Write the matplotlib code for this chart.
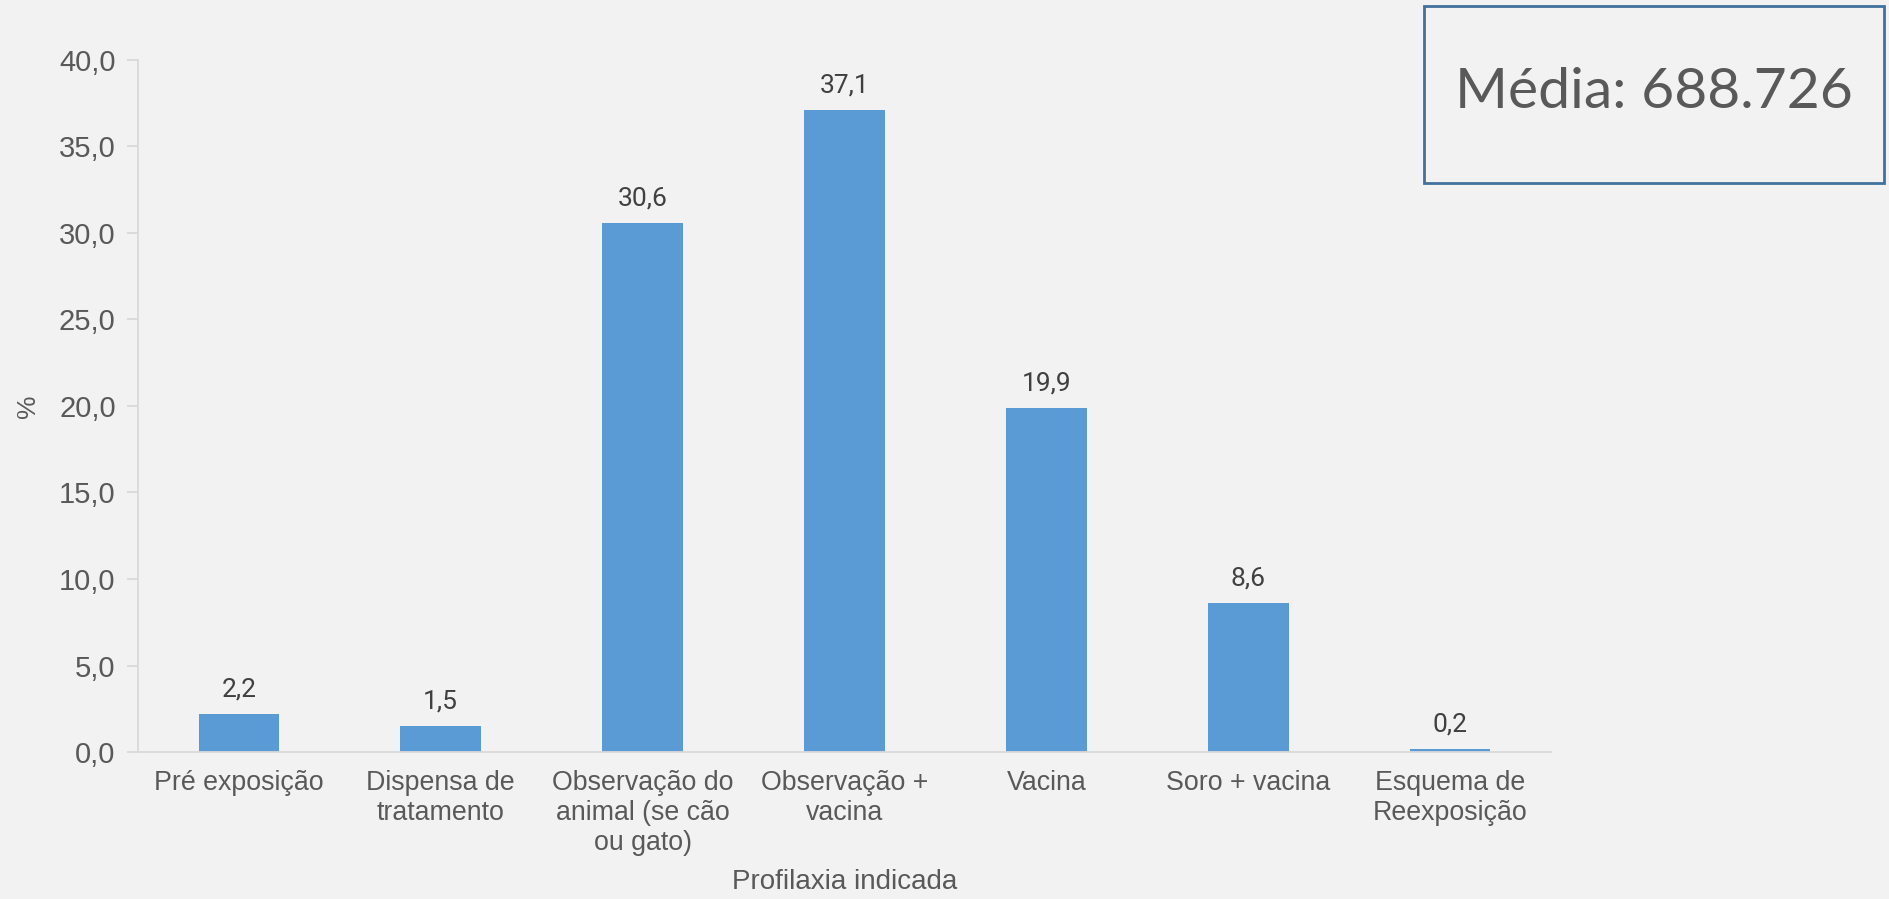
import matplotlib
matplotlib.use("Agg")
import matplotlib.pyplot as plt
import numpy as np

# dados
categorias = ["Pré exposição", "Dispensa de\ntratamento", "Observação do\nanimal (se cão\nou gato)",
              "Observação +\nvacina", "Vacina", "Soro + vacina", "Esquema de\nReexposição"]
percentuais = [2.2, 1.5, 30.6, 37.1, 19.9, 8.6, 0.2]
yticks = [0, 5, 10, 15, 20, 25, 30, 35, 40]
media_txt = "Média: 688.726"

bg = "#F2F2F2"
azul = "#5B9BD5"
cinza_txt = "#595959"
cinza_eixo = "#D9D9D9"

plt.rcParams['font.family'] = ['Liberation Sans', 'DejaVu Sans']

fig = plt.figure(figsize=(18.9, 8.99), dpi=100, facecolor=bg)
ax = fig.add_axes([0.073, 0.1635, 0.7476, 0.7698], facecolor=bg)

x = np.arange(len(categorias))
bars = ax.bar(x, percentuais, width=0.4, color=azul)

for xi, v in zip(x, percentuais):
    ax.annotate(f"{v:.1f}".replace(".", ","), (xi, v), xytext=(0, 9), textcoords="offset points",
                ha="center", va="bottom", fontsize=19, color="#404040", family=['Roboto'])

ax.set_xlim(-0.5, len(categorias) - 0.5)
ax.set_ylim(0, 40)
ax.set_yticks(yticks)
ax.set_yticklabels([f"{t:.1f}".replace(".", ",") for t in yticks], fontsize=21, color=cinza_txt)
ax.set_xticks(x)
ax.set_xticklabels(categorias, fontsize=19.3, color=cinza_txt, linespacing=1.2, va="top")

for s in ["top", "right"]:
    ax.spines[s].set_visible(False)
ax.spines["left"].set_color(cinza_eixo)
ax.spines["bottom"].set_color(cinza_eixo)
ax.spines["left"].set_linewidth(1.3)
ax.spines["bottom"].set_linewidth(1.3)
ax.tick_params(axis="y", length=8, color=cinza_eixo, width=1.3, pad=8)
ax.tick_params(axis="x", length=0, pad=13)

ax.set_ylabel("%", fontsize=19, color=cinza_txt, labelpad=14)
ax.set_xlabel("Profilaxia indicada", fontsize=20, color=cinza_txt, labelpad=9)

# caixa da média
fig.patches.append(plt.Rectangle((1424 / 1890, 1 - 183 / 899), 460 / 1890, 177 / 899,
                                 transform=fig.transFigure, fill=False,
                                 edgecolor="#41719C", linewidth=2))
fig.text((1424 + 230) / 1890, 1 - 92 / 899, media_txt, ha="center", va="center",
         fontsize=41, color=cinza_txt, family=['Lato', 'DejaVu Sans'])

fig.savefig("out.png", dpi=100, facecolor=bg)
